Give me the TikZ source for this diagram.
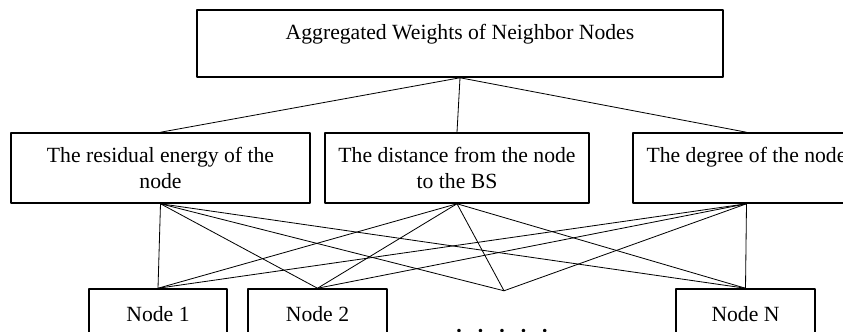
\documentclass[tikz,border=0pt]{standalone}
\usepackage{fontspec}
\setmainfont{Liberation Serif}
\begin{document}
\begin{tikzpicture}[x=0.03cm, y=-0.03cm, line join=round, line cap=round,
        box/.style={draw, line width=1.3pt, align=center, inner sep=2pt, font=\fontsize{18.5}{22.5}\selectfont},
        link/.style={line width=0.7pt}]
        \useasboundingbox (0,0) rectangle (843,331);

        \node [box, minimum width=15.78cm, minimum height=2.01cm] (agg) at (460,43.5) {Aggregated Weights of Neighbor Nodes\\[-10pt] \strut};

        \node [box, minimum width=8.97cm, minimum height=2.1cm] (energy) at (160.5,168) {The residual energy of the\\ node};
        \node [box, minimum width=7.92cm, minimum height=2.1cm] (dist) at (457,168) {The distance from the node\\ to the BS};
        \node [box, minimum width=6.81cm, minimum height=2.1cm] (deg) at (746.5,168) {The degree of the node\\[-7pt] \strut};

        \node [box, minimum width=4.14cm, minimum height=1.5cm] (n1) at (158,314) {Node 1};
        \node [box, minimum width=4.17cm, minimum height=1.5cm] (n2) at (317.5,314) {Node 2};
        \node [box, minimum width=4.17cm, minimum height=1.5cm] (nN) at (745.5,314) {Node N};
        \node [inner sep=0pt, minimum size=0pt] (more) at (504,291) {};
        \node [anchor=base, inner sep=0pt, font=\fontsize{18.5}{22.5}\selectfont\bfseries] (dots) at (502,332) {.\hspace{0.74em}.\hspace{0.74em}.\hspace{0.74em}.\hspace{0.74em}.};

        \draw [link] (agg.south) -- (energy.north) (agg.south) -- (dist.north) (agg.south) -- (deg.north);
        \foreach \a in {energy,dist,deg}
            \foreach \b in {n1,n2,more,nN}
                \draw [link] (\a.south) -- (\b.north);
    \end{tikzpicture}
\end{document}
